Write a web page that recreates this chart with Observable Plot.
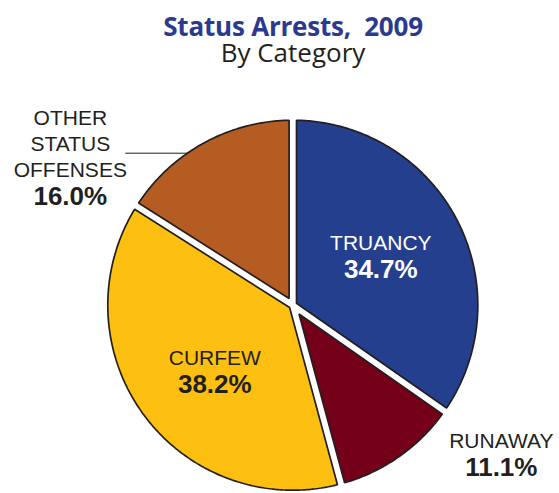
<!DOCTYPE html>
<html><head><meta charset="utf-8">
<script src="https://cdn.jsdelivr.net/npm/d3@7"></script>
<script src="https://cdn.jsdelivr.net/npm/@observablehq/plot@0.6"></script>
<style>
body{margin:0;background:#fff;}
#head{position:relative;width:559px;height:80px;}
.t{position:absolute;left:293px;transform:translateX(-50%);white-space:nowrap;line-height:0.85;}
#title{top:8.4px;font:700 26px "Open Sans";color:#2b3a8f;letter-spacing:-0.2px;}
#sub{top:33.9px;font:400 26px "Open Sans";color:#231f20;}
#chart svg{display:block;}
</style></head>
<body>
<div id="head"><div class="t" id="title">Status Arrests,&nbsp; 2009</div><div class="t" id="sub">By Category</div></div>
<div id="chart"></div>
<script>
// ---- data ----
const categories = ["TRUANCY", "RUNAWAY", "CURFEW", "OTHER STATUS OFFENSES"];
const shares = [34.7, 11.1, 38.2, 16.0];
const percentLabels = ["34.7%", "11.1%", "38.2%", "16.0%"];
const nameLines = [["TRUANCY"], ["RUNAWAY"], ["CURFEW"], ["OTHER", "STATUS", "OFFENSES"]];
const colors = ["#253f8f", "#74001a", "#fdc010", "#b55c22"];

// ---- geometry ----
const W = 559, H = 413, CX = 292.3, CY = 224.7, R = 185, GAP = 7.4;
const arcs = d3.pie().sort(null).value(d => d)(shares);
const pt = (a, r) => ({x: r * Math.sin(a), y: r * Math.cos(a)}); // y up
const half = GAP / 2, delta = Math.asin(half / R);
const sliceRows = [];
arcs.forEach((a, i) => {
  const th = a.endAngle - a.startAngle, mid = (a.startAngle + a.endAngle) / 2;
  const v = pt(mid, half / Math.sin(th / 2));
  sliceRows.push({cat: categories[i], x: v.x, y: v.y});
  const a0 = a.startAngle + delta, a1 = a.endAngle - delta;
  const n = Math.max(8, Math.ceil((a1 - a0) / 0.01));
  for (let k = 0; k <= n; k++) {
    const p = pt(a0 + (a1 - a0) * k / n, R);
    sliceRows.push({cat: categories[i], x: p.x, y: p.y});
  }
});

// label layout (pixel offsets from pie centre, y up; baseline of each line)
const layout = {
  "TRUANCY": {x: 88, y: 55, fill: "white", lead: null},
  "RUNAWAY": {x: 208.5, y: -143, fill: "#231f20", lead: {x1: 97.5, y: -151, inside: 9}},
  "CURFEW": {x: -78, y: -60, fill: "#231f20", lead: null},
  "OTHER STATUS OFFENSES": {x: -222.5, y: 180, fill: "#231f20", lead: {x1: -167.5, y: 152, inside: 0}}
};
const LH = 26, BIG = 28;
const nameRows = [], pctRows = [], leadRows = [];
categories.forEach((c, i) => {
  const L = layout[c];
  nameLines[i].forEach((s, j) => nameRows.push({text: s, x: L.x, y: L.y - j * LH, fill: L.fill}));
  pctRows.push({text: percentLabels[i], x: L.x, y: L.y - (nameLines[i].length - 1) * LH - BIG, fill: L.fill});
  if (L.lead) {
    const edge = Math.sqrt(R * R - L.lead.y * L.lead.y);
    const x2 = Math.sign(L.lead.x1) * (edge - L.lead.inside);
    leadRows.push({x1: L.lead.x1, x2, y: L.lead.y});
  }
});

const plot = Plot.plot({
  width: W, height: H, margin: 0,
  x: {domain: [-CX, W - CX], axis: null},
  y: {domain: [CY - H, CY], axis: null},
  color: {domain: categories, range: colors},
  marks: [
    Plot.line(sliceRows, {x: "x", y: "y", z: "cat", fill: "cat", stroke: "#231f20", strokeWidth: 1.7, curve: "linear-closed", strokeLinejoin: "miter"}),
    Plot.link(leadRows, {x1: "x1", x2: "x2", y1: "y", y2: "y", stroke: "#231f20", strokeWidth: 1}),
    Plot.text(nameRows, {x: "x", y: "y", text: "text", fill: d => d.fill, fontSize: 21, fontFamily: "Liberation Sans, Arial, sans-serif", lineAnchor: "bottom", textAnchor: "middle"}),
    Plot.text(pctRows, {x: "x", y: "y", text: "text", fill: d => d.fill, fontSize: 26, fontWeight: "bold", fontFamily: "Liberation Sans, Arial, sans-serif", lineAnchor: "bottom", textAnchor: "middle"})
  ]
});
document.getElementById("chart").appendChild(plot);
</script>
</body></html>
